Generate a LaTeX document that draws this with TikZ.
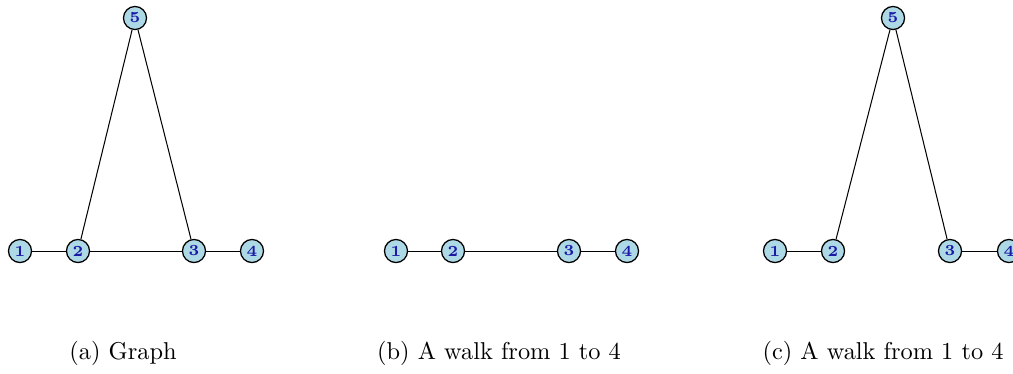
\documentclass[tikz,border=0pt]{standalone}
\usepackage{xcolor}
\usepackage{tikz}
\usetikzlibrary{positioning}
\definecolor{vfill}{HTML}{ADD8E6}
\definecolor{vtext}{HTML}{1A1AA6}

\begin{document}
\begin{tikzpicture}[x=0.39pt,y=-0.39pt,
        vert/.style={circle,draw=black,fill=vfill,text=vtext,
                     font=\bfseries\fontsize{6}{7}\selectfont,
                     minimum size=9pt,inner sep=0pt,line width=0.5pt},
        edge/.style={black,line width=0.4pt},
        subcap/.style={font=\fontsize{9.5}{11}\selectfont,anchor=base}]
        \useasboundingbox (0,0) rectangle (1013,373);
        % (a) graph
        \node[vert] (a1) at (20,251) {1};
        \node[vert] (a2) at (78,251) {2};
        \node[vert] (a3) at (194,251) {3};
        \node[vert] (a4) at (252,251) {4};
        \node[vert] (a5) at (135,18) {5};
        \draw[edge] (a1)--(a2);
        \draw[edge] (a2)--(a3);
        \draw[edge] (a3)--(a4);
        \draw[edge] (a2)--(a5);
        \draw[edge] (a5)--(a3);
        % (b) walk
        \node[vert] (b1) at (396,251) {1};
        \node[vert] (b2) at (453,251) {2};
        \node[vert] (b3) at (569,251) {3};
        \node[vert] (b4) at (627,251) {4};
        \draw[edge] (b1)--(b2);
        \draw[edge] (b2)--(b3);
        \draw[edge] (b3)--(b4);
        % (c) walk
        \node[vert] (c1) at (775,251) {1};
        \node[vert] (c2) at (833,251) {2};
        \node[vert] (c3) at (950,251) {3};
        \node[vert] (c4) at (1009,251) {4};
        \node[vert] (c5) at (893,18) {5};
        \draw[edge] (c1)--(c2);
        \draw[edge] (c2)--(c5);
        \draw[edge] (c5)--(c3);
        \draw[edge] (c3)--(c4);
        % captions
        \node[subcap] (capa) at (123,359) {(a) Graph};
        \node[subcap] (capb) at (499,359) {(b) A walk from 1 to 4};
        \node[subcap] (capc) at (883,359) {(c) A walk from 1 to 4};
\end{tikzpicture}
\end{document}
